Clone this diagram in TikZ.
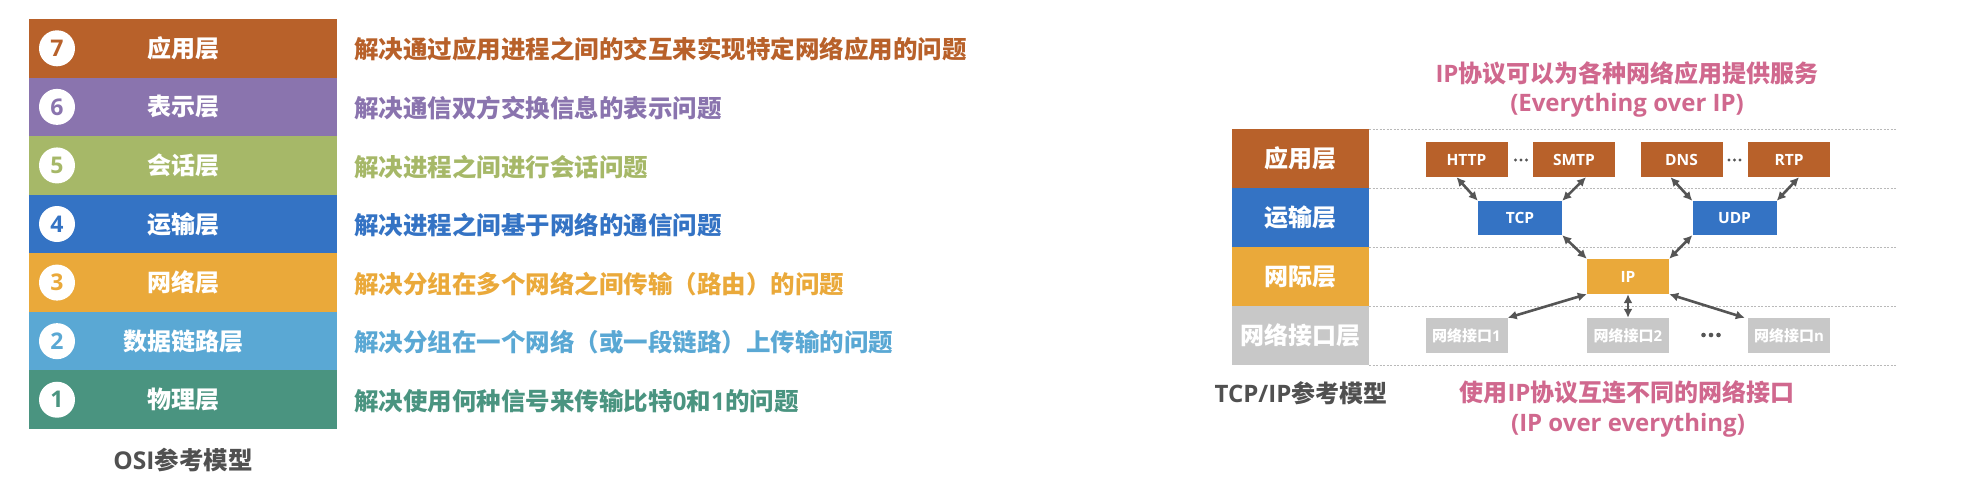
\documentclass[tikz,border=0pt]{standalone}
\usepackage{fontspec}
\setmainfont{Noto Sans CJK SC}
\newfontfamily\lat{Open Sans}
\usetikzlibrary{arrows.meta}
\definecolor{c7}{HTML}{B8612A}
\definecolor{c6}{HTML}{8A74AE}
\definecolor{c5}{HTML}{A6B868}
\definecolor{c4}{HTML}{3473C4}
\definecolor{c3}{HTML}{EAA93A}
\definecolor{c2}{HTML}{5AA8D4}
\definecolor{c1}{HTML}{4A9480}
\definecolor{cgray}{HTML}{C8C8C8}
\definecolor{cpink}{HTML}{D0688E}
\definecolor{cdark}{HTML}{505050}
\definecolor{carrow}{HTML}{555555}
\tikzset{
  osirow/.style={minimum width=308pt, minimum height=58.6pt, inner sep=0pt, text=white, font=\bfseries\fontsize{24}{24}\selectfont},
  numcirc/.style={circle, fill=white, minimum size=36pt, inner sep=0pt, font=\lat\bfseries\fontsize{23}{23}\selectfont},
  desc/.style={anchor=west, inner sep=0pt, font=\bfseries\fontsize{24.5}{24.5}\selectfont},
  tcprow/.style={minimum width=137pt, minimum height=59pt, inner sep=0pt, text=white, font=\bfseries\fontsize{24}{24}\selectfont},
  proto/.style={minimum width=82pt, minimum height=35pt, inner sep=0pt, text=white, font=\lat\bfseries\fontsize{15.5}{15.5}\selectfont},
  ifbox/.style={proto, fill=cgray, font=\bfseries\fontsize{15}{15}\selectfont},
  layerline/.style={gray!55, line width=0.8pt, dash pattern=on 2pt off 1.5pt},
  biarrow/.style={carrow, line width=2.6pt, {Latex[length=9pt,width=9pt]}-{Latex[length=9pt,width=9pt]}},
  pinktext/.style={text=cpink, inner sep=0pt, font=\bfseries\fontsize{24}{24}\selectfont},
  caption/.style={text=cdark, inner sep=0pt, font=\bfseries\fontsize{24}{24}\selectfont},
  dot/.style={fill=carrow, draw=none},
}
\begin{document}
\begin{tikzpicture}[x=1pt, y=-1pt]
\useasboundingbox (0,0) rectangle (1986,498);
% OSI model
\foreach \k/\n/\name/\d in {
  0/7/应用层/解决通过应用进程之间的交互来实现特定网络应用的问题,
  1/6/表示层/解决通信双方交换信息的表示问题,
  2/5/会话层/解决进程之间进行会话问题,
  3/4/运输层/解决进程之间基于网络的通信问题,
  4/3/网络层/解决分组在多个网络之间传输（路由）的问题,
  5/2/数据链路层/解决分组在一个网络（或一段链路）上传输的问题,
  6/1/物理层/解决使用何种信号来传输比特{\lat 0}和{\lat 1}的问题}{
  \node[osirow, fill=c\n] (L\n) at (183, 48.3+58.57*\k) {\name};
  \node[numcirc, text=c\n] (N\n) at (57, 48.3+58.57*\k) {\n};
  \node[desc, text=c\n] (D\n) at (354, 49.5+58.57*\k) {\d};
}
\node[caption, font=\bfseries\fontsize{24.5}{24.5}\selectfont] (osicap) at (183,460) {{\lat OSI}参考模型};

% TCP/IP model
\node[tcprow, fill=c7] (T4) at (1300.5,158.5) {应用层};
\node[tcprow, fill=c4] (T3) at (1300.5,217.5) {运输层};
\node[tcprow, fill=c3] (T2) at (1300.5,276.5) {网际层};
\node[tcprow, fill=cgray] (T1) at (1300.5,335.5) {网络接口层};
\foreach \y in {129,188,247,306,365}{
  \draw[layerline] (1369,\y) -- (1897,\y);
}
\node[proto, fill=c7] (HTTP) at (1466.5,159.5) {HTTP};
\node[proto, fill=c7] (SMTP) at (1574,159.5) {SMTP};
\node[proto, fill=c7] (DNS) at (1681.5,159.5) {DNS};
\node[proto, fill=c7] (RTP) at (1789,159.5) {RTP};
\node[proto, fill=c4, minimum width=84pt, minimum height=34pt] (TCP) at (1520,218) {TCP};
\node[proto, fill=c4, minimum width=84pt, minimum height=34pt] (UDP) at (1734.5,218) {UDP};
\node[proto, fill=c3] (IP) at (1628,276.5) {IP};
\node[ifbox] (if1) at (1466.5,335.5) {网络接口{\lat 1}};
\node[ifbox] (if2) at (1628,335.5) {网络接口{\lat 2}};
\node[ifbox] (ifn) at (1789,335.5) {网络接口{\lat n}};

% ellipsis dots
\coordinate (e1) at (1521,160);
\coordinate (e2) at (1734.5,160);
\coordinate (e3) at (1711,335);
\foreach \dx in {-5.5,0,5.5}{
  \fill[dot] ([xshift=\dx pt]e1) circle (1.6pt);
  \fill[dot] ([xshift=\dx pt]e2) circle (1.6pt);
}
\foreach \dx in {-7.5,0,7.5}{
  \fill[dot] ([xshift=\dx pt]e3) circle (2.3pt);
}

\draw[biarrow] ([xshift=-10pt]HTTP.south) -- (TCP.north west);
\draw[biarrow] ([xshift=12pt]SMTP.south) -- (TCP.north east);
\draw[biarrow] ([xshift=-11pt]DNS.south) -- (UDP.north west);
\draw[biarrow] ([xshift=10pt]RTP.south) -- (UDP.north east);
\draw[biarrow] (TCP.south east) -- (IP.north west);
\draw[biarrow] (UDP.south west) -- (IP.north east);
\draw[biarrow] (IP.south west) -- (if1.north east);
\draw[biarrow] (IP.south) -- (if2.north);
\draw[biarrow] (IP.south east) -- ([xshift=-3pt]ifn.north west);

\node[pinktext] (top1) at (1627,73) {{\lat IP}协议可以为各种网络应用提供服务};
\node[pinktext, font=\lat\bfseries\fontsize{24}{24}\selectfont] (top2) at (1627,105) {(Everything over IP)};
\node[pinktext] (bot1) at (1627,392) {使用{\lat IP}协议互连不同的网络接口};
\node[pinktext, font=\lat\bfseries\fontsize{24}{24}\selectfont] (bot2) at (1628,425) {(IP over everything)};
\node[caption] (tcpcap) at (1301,393) {{\lat TCP/IP}参考模型};
\end{tikzpicture}
\end{document}
